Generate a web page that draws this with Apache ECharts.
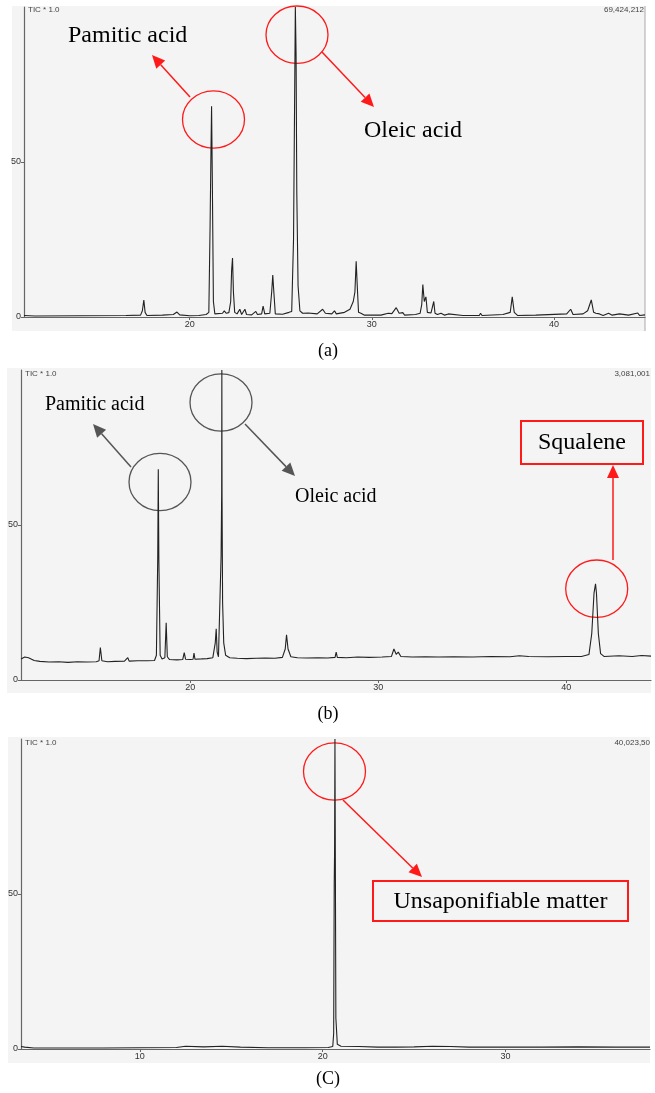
<!DOCTYPE html>
<html>
<head>
<meta charset="utf-8">
<script src="https://cdn.jsdelivr.net/npm/echarts@6/dist/echarts.min.js"></script>
<style>
  html, body { margin: 0; padding: 0; background: #fff; }
  #chart { width: 655px; height: 1093px; }
</style>
</head>
<body>
<div id="chart"></div>
<script>
  // retention time (min), relative intensity (%)
  const traceA = [
    [10.9, 0.5], [11.5, 0.3], [14, 0.4], [16.5, 0.5], [17.3, 0.6], [17.4, 2], [17.48, 5.5], [17.55, 1.5], [17.65, 0.5],
    [18.5, 0.6], [19.1, 0.8], [19.3, 1.6], [19.45, 0.7], [20, 0.4], [20.5, 0.5], [20.9, 0.8], [21.05, 1.5],
    [21.12, 30], [21.17, 55], [21.2, 68], [21.24, 45], [21.3, 5], [21.38, 1], [21.8, 1.2], [21.9, 2], [22.0, 1.2],
    [22.15, 1.4], [22.25, 5], [22.3, 15], [22.35, 19], [22.4, 8], [22.47, 1.5], [22.6, 1], [22.75, 2.5], [22.85, 0.8],
    [23.03, 2.5], [23.12, 0.8], [23.4, 0.7], [23.63, 1.8], [23.72, 0.8], [23.95, 1], [24.03, 3.5], [24.12, 1],
    [24.4, 1.2], [24.5, 8], [24.56, 13.5], [24.62, 8], [24.7, 1], [25.1, 0.9], [25.45, 1.5], [25.6, 1.8],
    [25.7, 25], [25.76, 70], [25.8, 100], [25.84, 85], [25.88, 40], [25.95, 10], [26.05, 2], [26.2, 1.2], [26.5, 1.3],
    [27, 1], [27.3, 2.5], [27.45, 1.2], [27.8, 1], [27.95, 2], [28.05, 1], [28.5, 1.5], [28.8, 2.5], [28.98, 5],
    [29.07, 8], [29.14, 18], [29.2, 10], [29.27, 1.5], [29.4, 1.2], [29.6, 0.6], [30.5, 0.6], [30.9, 1.2], [31.1, 1.1],
    [31.34, 3], [31.5, 1.2], [31.7, 1.4], [31.8, 0.6], [32.4, 0.8], [32.65, 1.2], [32.74, 4], [32.8, 10.5], [32.88, 5],
    [32.97, 6.5], [33.05, 1.5], [33.25, 1.3], [33.4, 5], [33.47, 1.2], [33.6, 0.8], [33.8, 1.2], [34.0, 0.6], [34.2, 1],
    [35, 0.5], [35.9, 0.5], [35.97, 1.2], [36.05, 0.5], [37.2, 0.8], [37.6, 1.5], [37.71, 6.5], [37.82, 1.5], [38, 0.5],
    [39, 0.6], [40.7, 1], [40.92, 2.5], [41.05, 0.8], [41.6, 1], [41.85, 2], [42.05, 5.5], [42.18, 1.5], [42.3, 1.2],
    [42.5, 1], [42.7, 0.5], [43, 1.2], [43.2, 0.6], [43.6, 1], [44.1, 0.6], [44.6, 1.3], [44.7, 0.5], [45, 0.7],
  ]
  const traceB = [
    [11.0, 6.8], [11.2, 7.4], [11.4, 7.2], [11.7, 6.3], [12.0, 6.0], [12.5, 5.8], [13, 5.9], [13.5, 5.7], [14, 5.9],
    [14.5, 5.8], [15, 5.9], [15.15, 6.2], [15.22, 10.5], [15.3, 6.2], [15.6, 5.9], [16, 6.0], [16.5, 6.1], [16.68, 7.2],
    [16.75, 6.1], [17.2, 6.2], [17.7, 6.2], [18.1, 6.3], [18.2, 8], [18.27, 39], [18.3, 68], [18.33, 39], [18.4, 8],
    [18.5, 6.8], [18.65, 7.2], [18.72, 18.5], [18.78, 7.5], [18.9, 6.6], [19.3, 6.5], [19.6, 6.6], [19.68, 8.8],
    [19.75, 6.7], [20.0, 6.6], [20.15, 6.7], [20.2, 8.7], [20.25, 6.7], [20.6, 6.8], [20.9, 6.9], [21.2, 7.2],
    [21.33, 12], [21.38, 16.5], [21.43, 9], [21.5, 7.5], [21.6, 8], [21.64, 40], [21.67, 60], [21.68, 100], [21.69, 60],
    [21.72, 25], [21.78, 12], [21.88, 8], [22.1, 7.2], [22.5, 7.0], [23, 6.9], [23.5, 7.0], [24, 7.1], [24.5, 7.0],
    [24.9, 7.3], [25.05, 10], [25.12, 14.6], [25.2, 10], [25.35, 7.5], [25.7, 7.2], [26.2, 7.1], [26.8, 7.2],
    [27.3, 7.1], [27.7, 7.3], [27.76, 9], [27.82, 7.3], [28.3, 7.2], [28.9, 7.4], [29.5, 7.3], [30.2, 7.4], [30.7, 7.6],
    [30.83, 10], [30.95, 8.3], [31.06, 9], [31.2, 7.6], [31.8, 7.4], [32.5, 7.5], [33.2, 7.4], [34, 7.5], [35, 7.4],
    [36, 7.6], [37, 7.5], [37.5, 7.8], [38, 7.6], [39, 7.5], [40, 7.6], [40.8, 7.6], [41.2, 8.2], [41.35, 15],
    [41.47, 28], [41.55, 31], [41.6, 28], [41.7, 15], [41.82, 8.5], [42.0, 7.6], [42.8, 7.8], [43.5, 7.6], [44, 7.9],
    [44.5, 7.7],
  ]
  const traceC = [
    [3.5, 0.8], [3.7, 0.6], [4.2, 0.3], [6, 0.3], [8, 0.3], [10, 0.4], [12, 0.5], [12.5, 0.9], [13.5, 0.7], [14.5, 0.9],
    [15.5, 0.6], [17, 0.4], [19, 0.4], [20.3, 0.5], [20.55, 0.8], [20.6, 5], [20.63, 53], [20.65, 64], [20.67, 100],
    [20.69, 64], [20.72, 10], [20.8, 1.5], [21, 0.9], [22, 0.8], [23, 0.6], [24, 0.6], [25, 0.7], [26, 0.9], [27, 0.8],
    [28, 0.6], [30, 0.6], [32, 0.6], [34, 0.7], [36, 0.6], [37.9, 0.6],
  ]
  const xTicksA = [20, 30, 40]
  const xTicksB = [20, 30, 40]
  const xTicksC = [10, 20, 30]
  const yTicks = [0, 50]
  const captions = ['(a)', '(b)', '(C)']
  const scaleLabels = ['69,424,212', '3,081,001', '40,023,50']

  const chart = echarts.init(document.getElementById('chart'))
  const red = '#ff1a1a'
  const grey = '#555'
  const serif = '"Liberation Serif", "DejaVu Serif", serif'
  const sans = '"Liberation Sans", "DejaVu Sans", sans-serif'

  // panel layout: grid boxes and grey backdrop
  const grids = [
    { left: 24, top: 7, width: 621, height: 310 },
    { left: 21, top: 370, width: 630, height: 310 },
    { left: 21, top: 739, width: 629, height: 310 },
  ]
  const backs = [
    [12, 6, 633, 325],
    [7, 368, 644, 325],
    [8, 737, 642, 326],
  ]
  const ranges = [[10.9, 45.0], [11.0, 44.5], [3.5, 37.9]]
  const xTicks = [xTicksA, xTicksB, xTicksC]
  const traces = [traceA, traceB, traceC]

  function xAxisFor(i) {
    return {
      type: 'value', gridIndex: i, min: ranges[i][0], max: ranges[i][1],
      axisLine: { onZero: false, lineStyle: { color: '#666', width: 1.2 } },
      axisTick: { customValues: xTicks[i], length: 3, lineStyle: { color: '#666' } },
      axisLabel: { customValues: xTicks[i], fontSize: 9, color: '#333', margin: 3, fontFamily: sans },
      splitLine: { show: false },
    }
  }
  function yAxisFor(i) {
    return {
      type: 'value', gridIndex: i, min: 0, max: 100,
      axisLine: { show: true, lineStyle: { color: '#666', width: 1.2 } },
      axisTick: { show: true, customValues: yTicks, length: 3, lineStyle: { color: '#666' } },
      axisLabel: { customValues: yTicks, fontSize: 9, color: '#333', margin: 3, fontFamily: sans },
      splitLine: { show: false },
    }
  }

  function arrow(x1, y1, x2, y2, color) {
    const ang = Math.atan2(y2 - y1, x2 - x1)
    const len = 13, half = 6
    const bx = x2 - len * Math.cos(ang), by = y2 - len * Math.sin(ang)
    const px = -Math.sin(ang) * half, py = Math.cos(ang) * half
    return [
      { type: 'line', shape: { x1, y1, x2: bx, y2: by }, style: { stroke: color, lineWidth: 1.5 } },
      { type: 'polygon', shape: { points: [[x2, y2], [bx + px, by + py], [bx - px, by - py]] }, style: { fill: color } },
    ]
  }
  function ring(cx, cy, color) {
    return { type: 'ellipse', shape: { cx, cy, rx: 31, ry: 28.7 }, style: { stroke: color, fill: 'none', lineWidth: 1.3 } }
  }
  function label(text, x, y, size, align) {
    return {
      type: 'text',
      style: { text, x, y, fill: '#000', font: size + 'px ' + serif, textAlign: align || 'left', textVerticalAlign: 'middle' },
    }
  }
  function box(x, y, w, h) {
    return { type: 'rect', shape: { x, y, width: w, height: h }, style: { stroke: red, fill: 'none', lineWidth: 2 } }
  }

  const graphic = []
  backs.forEach((b) => {
    graphic.push({ type: 'rect', z: -10, shape: { x: b[0], y: b[1], width: b[2], height: b[3] }, style: { fill: '#f4f4f4' } })
  })
  graphic.push({ type: 'line', shape: { x1: 645, y1: 6, x2: 645, y2: 331 }, style: { stroke: '#aaa', lineWidth: 1 } })
  const tops = [10, 374, 743]
  const rights = [644, 650, 650]
  tops.forEach((y, i) => {
    graphic.push({ type: 'text', style: { text: 'TIC * 1.0', x: grids[i].left + 4, y, fill: '#444', font: '8px ' + sans, textVerticalAlign: 'middle' } })
    graphic.push({ type: 'text', style: { text: scaleLabels[i], x: rights[i], y, fill: '#444', font: '8px ' + sans, textAlign: 'right', textVerticalAlign: 'middle' } })
  })
  const capY = [351, 714, 1079]
  captions.forEach((c, i) => graphic.push(label(c, 328, capY[i], 18, 'center')))

  // (a) annotations
  graphic.push(label('Pamitic acid', 68, 36, 24))
  graphic.push(label('Oleic acid', 364, 131, 24))
  graphic.push(ring(213.5, 119.5, red), ring(297, 34.7, red))
  graphic.push(...arrow(190, 97, 152, 55, red), ...arrow(322, 52, 374, 107, red))
  // (b) annotations
  graphic.push(label('Pamitic acid', 45, 405, 20))
  graphic.push(label('Oleic acid', 295, 497, 20))
  graphic.push(ring(160, 482, grey), ring(221, 402.5, grey), ring(596.7, 588.7, red))
  graphic.push(...arrow(131, 467, 93, 424, grey), ...arrow(245, 424, 295, 476, grey))
  graphic.push(...arrow(613, 560, 613, 465, red))
  graphic.push(box(521, 421, 122, 43), label('Squalene', 582, 443, 24, 'center'))
  // (c) annotations
  graphic.push(ring(334.5, 771.5, red))
  graphic.push(...arrow(343, 800, 422, 877, red))
  graphic.push(box(373, 881, 255, 40), label('Unsaponifiable matter', 500.5, 902, 24, 'center'))

  const option = {
    animation: false,
    backgroundColor: '#fff',
    grid: grids,
    xAxis: [0, 1, 2].map(xAxisFor),
    yAxis: [0, 1, 2].map(yAxisFor),
    series: traces.map((d, i) => ({
      type: 'line', xAxisIndex: i, yAxisIndex: i, data: d,
      showSymbol: false, clip: true,
      lineStyle: { color: '#222', width: 1.1 },
    })),
    graphic: graphic,
  }
  chart.setOption(option)
</script>
</body>
</html>
